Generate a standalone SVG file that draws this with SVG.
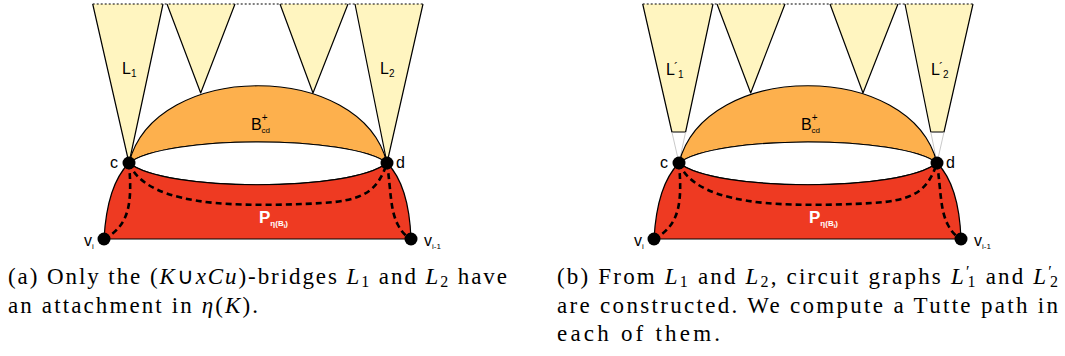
<svg xmlns="http://www.w3.org/2000/svg" width="1065" height="356" viewBox="0 0 1065 356">
<style>
.tri{fill:#FFF5C0;stroke:none}
.edge{fill:none;stroke:#000;stroke-width:1.2;stroke-linejoin:round}
.top{fill:none;stroke:#000;stroke-width:1.2;stroke-dasharray:2 2}
.ghost{fill:none;stroke:#bbb;stroke-width:0.8}
.orange{fill:#FDB04D;stroke:#000;stroke-width:1.2}
.red{fill:#EE3A22;stroke:#000;stroke-width:1.2}
.white{fill:#fff;stroke:#000;stroke-width:1.2}
.dash{fill:none;stroke:#000;stroke-width:2.6;stroke-dasharray:6 4}
.vert{fill:#000}
.lbl{font-family:"Liberation Sans",Arial,sans-serif;font-size:16px;fill:#000}
.sub{font-size:10px}
.plbl{font-family:"Liberation Sans",Arial,sans-serif;font-size:17px;font-weight:bold;fill:#fff}
.cap{font-family:"Liberation Serif","Times New Roman",serif;font-size:23px;fill:#000}
.it{font-style:italic}
</style>

<!-- Panel (a) -->
<g id="panel-a">
  <g id="a-L1">
    <polygon class="tri" points="92.7,4 163,4 129,163"/>
    <polyline class="edge" points="92.7,4 129,163 163,4"/>
    <text class="lbl" x="122" y="74">L<tspan class="sub" dy="3">1</tspan></text>
  </g>
  <g id="a-T2">
    <polygon class="tri" points="167,4 235,4 200.7,93"/>
    <polyline class="edge" points="167,4 200.7,93 235,4"/>
  </g>
  <g id="a-T3">
    <polygon class="tri" points="280,4 348,4 313,93"/>
    <polyline class="edge" points="280,4 313,93 348,4"/>
  </g>
  <g id="a-L2">
    <polygon class="tri" points="355,4 423,4 387,163"/>
    <polyline class="edge" points="355,4 387,163 423,4"/>
    <text class="lbl" x="380" y="74">L<tspan class="sub" dy="3">2</tspan></text>
  </g>
  <line class="top" x1="92.7" y1="4" x2="423" y2="4"/>
  <g id="a-B">
    <path class="orange" d="M129,163 C155,60 361,60 387,163 C351,135 165,135 129,163 Z"/>
    <text class="lbl" x="251" y="130" font-size="17">B<tspan font-size="10" dy="-9">+</tspan><tspan font-size="8" dx="-6" dy="12">cd</tspan></text>
  </g>
  <g id="a-white">
    <path class="white" d="M129,163 C165,135 351,135 387,163 C351,192 165,192 129,163 Z"/>
  </g>
  <g id="a-P">
    <path class="red" d="M129,163 C165,192 351,192 387,163 Q409,185 411,239 L104,239 Q107,185 129,163 Z"/>
    <text class="plbl" x="259" y="223">P<tspan font-size="8" dy="3">η(B</tspan><tspan font-size="6" dy="2">i</tspan><tspan font-size="8" dy="-2">)</tspan></text>
  </g>
  <g id="a-connectors">
    <path class="dash" d="M129,163 C132,200 131,225 104,239"/>
    <path class="dash" d="M129,163 C138,185 165,198 215,203 C250,206 300,205 335,202 C365,198 378,190 387,163"/>
    <path class="dash" d="M387,163 C391,190 390,210 398,225 C402,233 406,236 411,239"/>
  </g>
  <g id="a-c"><circle class="vert" cx="129" cy="163" r="6.5"/><text class="lbl" x="110" y="168">c</text></g>
  <g id="a-d"><circle class="vert" cx="387" cy="163" r="6.5"/><text class="lbl" x="396" y="168">d</text></g>
  <g id="a-vi"><circle class="vert" cx="104" cy="239" r="6.5"/><text class="lbl" x="84" y="246" font-size="13">v<tspan font-size="8" dy="3">i</tspan></text></g>
  <g id="a-vi1"><circle class="vert" cx="411" cy="239" r="6.5"/><text class="lbl" x="424" y="246" font-size="13">v<tspan font-size="8" dy="3">i-1</tspan></text></g>
</g>

<!-- Panel (b) -->
<g id="panel-b" transform="translate(550,0)">
  <g id="b-L1">
    <polygon class="tri" points="92.7,4 163,4 135.6,132 121.9,132"/>
    <polyline class="edge" points="92.7,4 121.9,132 135.6,132 163,4"/>
    <line class="ghost" x1="121.9" y1="132" x2="129" y2="163"/>
    <line class="ghost" x1="135.6" y1="132" x2="129" y2="163"/>
    <text class="lbl" x="116" y="75">L<tspan font-size="12" dx="-1" dy="-3">´</tspan><tspan class="sub" dy="6">1</tspan></text>
  </g>
  <g id="b-T2">
    <polygon class="tri" points="167,4 235,4 200.7,93"/>
    <polyline class="edge" points="167,4 200.7,93 235,4"/>
  </g>
  <g id="b-T3">
    <polygon class="tri" points="280,4 348,4 313,93"/>
    <polyline class="edge" points="280,4 313,93 348,4"/>
  </g>
  <g id="b-L2">
    <polygon class="tri" points="355,4 423,4 394,132 380.8,132"/>
    <polyline class="edge" points="355,4 380.8,132 394,132 423,4"/>
    <line class="ghost" x1="380.8" y1="132" x2="387" y2="163"/>
    <line class="ghost" x1="394" y1="132" x2="387" y2="163"/>
    <text class="lbl" x="381" y="75">L<tspan font-size="12" dx="-1" dy="-3">´</tspan><tspan class="sub" dy="6">2</tspan></text>
  </g>
  <line class="top" x1="92.7" y1="4" x2="423" y2="4"/>
  <g id="b-B">
    <path class="orange" d="M129,163 C155,60 361,60 387,163 C351,135 165,135 129,163 Z"/>
    <text class="lbl" x="251" y="130" font-size="17">B<tspan font-size="10" dy="-9">+</tspan><tspan font-size="8" dx="-6" dy="12">cd</tspan></text>
  </g>
  <g id="b-white">
    <path class="white" d="M129,163 C165,135 351,135 387,163 C351,192 165,192 129,163 Z"/>
  </g>
  <g id="b-P">
    <path class="red" d="M129,163 C165,192 351,192 387,163 Q409,185 411,239 L104,239 Q107,185 129,163 Z"/>
    <text class="plbl" x="259" y="223">P<tspan font-size="8" dy="3">η(B</tspan><tspan font-size="6" dy="2">i</tspan><tspan font-size="8" dy="-2">)</tspan></text>
  </g>
  <g id="b-connectors">
    <path class="dash" d="M129,163 C132,200 131,225 104,239"/>
    <path class="dash" d="M129,163 C138,185 165,198 215,203 C250,206 300,205 335,202 C365,198 378,190 387,163"/>
    <path class="dash" d="M387,163 C391,190 390,210 398,225 C402,233 406,236 411,239"/>
  </g>
  <g id="b-c"><circle class="vert" cx="129" cy="163" r="6.5"/><text class="lbl" x="110" y="168">c</text></g>
  <g id="b-d"><circle class="vert" cx="387" cy="163" r="6.5"/><text class="lbl" x="396" y="168">d</text></g>
  <g id="b-vi"><circle class="vert" cx="104" cy="239" r="6.5"/><text class="lbl" x="84" y="246" font-size="13">v<tspan font-size="8" dy="3">i</tspan></text></g>
  <g id="b-vi1"><circle class="vert" cx="411" cy="239" r="6.5"/><text class="lbl" x="424" y="246" font-size="13">v<tspan font-size="8" dy="3">i-1</tspan></text></g>
</g>

<!-- Captions -->
<g id="captions">
  <text class="cap" x="8" y="284" textLength="499" lengthAdjust="spacing">(a) Only the (<tspan class="it">K</tspan>∪<tspan class="it">xCu</tspan>)-bridges <tspan class="it">L</tspan><tspan font-size="16" dy="3">1</tspan><tspan dy="-3"> and </tspan><tspan class="it">L</tspan><tspan font-size="16" dy="3">2</tspan><tspan dy="-3"> have</tspan></text>
  <text class="cap" x="8" y="313" textLength="250" lengthAdjust="spacing">an attachment in <tspan class="it">η</tspan>(<tspan class="it">K</tspan>).</text>
  <text class="cap" x="557" y="284" textLength="501" lengthAdjust="spacing">(b) From <tspan class="it">L</tspan><tspan font-size="16" dy="3">1</tspan><tspan dy="-3"> and </tspan><tspan class="it">L</tspan><tspan font-size="16" dy="3">2</tspan><tspan dy="-3">, circuit graphs </tspan><tspan class="it">L</tspan><tspan font-size="16" dy="-7">′</tspan><tspan font-size="16" dx="-4" dy="10">1</tspan><tspan dy="-3"> and </tspan><tspan class="it">L</tspan><tspan font-size="16" dy="-7">′</tspan><tspan font-size="16" dx="-4" dy="10">2</tspan></text>
  <text class="cap" x="557" y="313" textLength="501" lengthAdjust="spacing">are constructed.  We compute a Tutte path in</text>
  <text class="cap" x="557" y="341" textLength="163" lengthAdjust="spacing">each of them.</text>
</g>
</svg>
